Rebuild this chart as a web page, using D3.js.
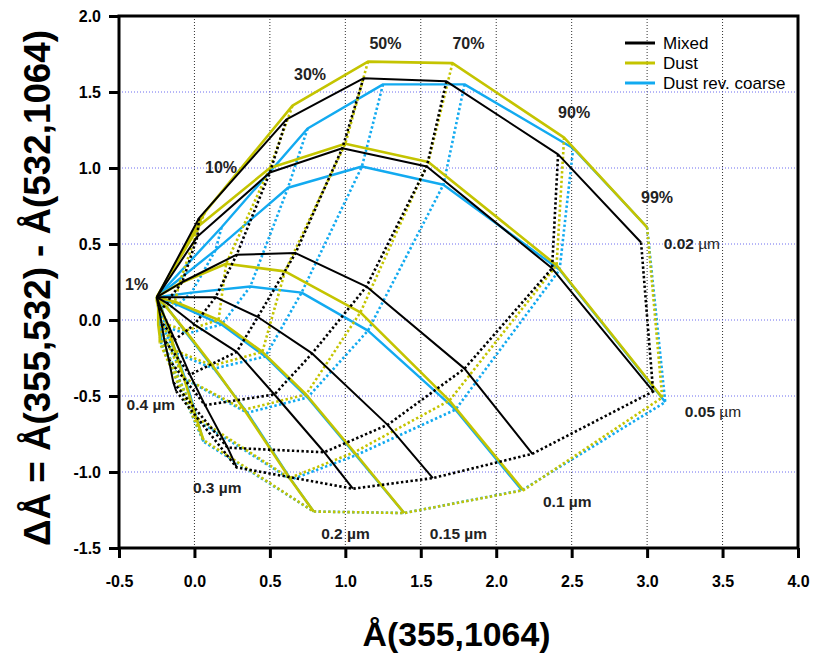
<!DOCTYPE html>
<html>
<head>
<meta charset="utf-8">
<script src="https://cdn.jsdelivr.net/npm/d3@7"></script>
<style>
  body { margin: 0; background: #fff; }
  svg { font-family: "Liberation Sans", Arial, sans-serif; }
</style>
</head>
<body>
<svg id="chart" width="814" height="658"></svg>
<script>
// fine-mode fractions (columns) and fine-mode radii (rows)
const fractions = ["1%", "10%", "30%", "50%", "70%", "90%", "99%"];
const radii = ["0.02", "0.05", "0.1", "0.15", "0.2", "0.3", "0.4"];

// Mixed
const mixedX = [
  [-0.25, 0.03, 0.61, 1.12, 1.67, 2.41, 2.96],
  [-0.25, 0.02, 0.50, 0.98, 1.54, 2.37, 3.04],
  [-0.25, -0.08, 0.28, 0.67, 1.14, 1.79, 2.24],
  [-0.25, -0.16, 0.14, 0.42, 0.78, 1.28, 1.58],
  [-0.25, -0.18, 0.00, 0.28, 0.53, 0.86, 1.05],
  [-0.25, -0.22, -0.13, -0.03, 0.07, 0.22, 0.28],
  [-0.25, -0.24, -0.22, -0.20, -0.17, -0.14, -0.12]
];
const mixedY = [
  [0.15, 0.67, 1.32, 1.59, 1.57, 1.09, 0.51],
  [0.15, 0.55, 0.97, 1.13, 1.01, 0.34, -0.47],
  [0.15, 0.25, 0.43, 0.44, 0.22, -0.32, -0.88],
  [0.15, 0.15, 0.15, 0.02, -0.22, -0.69, -1.04],
  [0.15, 0.11, -0.03, -0.21, -0.49, -0.87, -1.11],
  [0.15, 0.07, -0.13, -0.36, -0.56, -0.84, -0.97],
  [0.15, 0.10, -0.01, -0.13, -0.26, -0.41, -0.47]
];

// Dust
const dustX = [
  [-0.25, 0.07, 0.65, 1.15, 1.71, 2.45, 3.00],
  [-0.25, 0.03, 0.50, 1.00, 1.55, 2.40, 3.10],
  [-0.25, -0.10, 0.21, 0.60, 1.10, 1.69, 2.18],
  [-0.25, -0.13, 0.16, 0.45, 0.74, 1.06, 1.39],
  [-0.25, -0.19, -0.06, 0.12, 0.33, 0.63, 0.79],
  [-0.25, -0.23, -0.18, -0.13, -0.07, 0.01, 0.06],
  [-0.25, -0.25, -0.24, -0.24, -0.24, -0.23, -0.23]
];
const dustY = [
  [0.15, 0.71, 1.41, 1.70, 1.69, 1.20, 0.61],
  [0.15, 0.62, 1.00, 1.16, 1.04, 0.36, -0.51],
  [0.15, 0.24, 0.37, 0.32, 0.05, -0.53, -1.12],
  [0.15, 0.12, 0.00, -0.21, -0.49, -0.87, -1.27],
  [0.15, 0.09, -0.07, -0.30, -0.59, -1.04, -1.26],
  [0.15, 0.10, -0.03, -0.20, -0.38, -0.64, -0.79],
  [0.15, 0.13, 0.08, 0.03, -0.03, -0.11, -0.15]
];

// Dust rev. coarse
const revX = [
  [-0.25, 0.18, 0.75, 1.25, 1.79, 2.51, 3.00],
  [-0.25, 0.14, 0.62, 1.11, 1.65, 2.42, 3.12],
  [-0.25, -0.02, 0.37, 0.71, 1.15, 1.73, 2.17],
  [-0.25, -0.11, 0.18, 0.47, 0.75, 1.07, 1.39],
  [-0.25, -0.18, -0.05, 0.13, 0.35, 0.64, 0.79],
  [-0.25, -0.22, -0.18, -0.12, -0.06, 0.02, 0.06],
  [-0.25, -0.24, -0.24, -0.24, -0.23, -0.22, -0.22]
];
const revY = [
  [0.15, 0.61, 1.26, 1.55, 1.55, 1.13, 0.61],
  [0.15, 0.46, 0.87, 1.01, 0.89, 0.33, -0.54],
  [0.15, 0.18, 0.22, 0.18, -0.07, -0.59, -1.12],
  [0.15, 0.10, -0.03, -0.24, -0.51, -0.89, -1.27],
  [0.15, 0.08, -0.09, -0.32, -0.61, -1.05, -1.26],
  [0.15, 0.09, -0.05, -0.22, -0.39, -0.66, -0.80],
  [0.15, 0.12, 0.07, 0.01, -0.05, -0.12, -0.16]
];

const seriesNames = ["Mixed", "Dust", "Dust rev. coarse"];
const seriesColors = ["#000000", "#c4c400", "#12aaf0"];

// text labels, placed in data units
const fractionLabels = [
  ["1%", -0.46, 0.20], ["10%", 0.07, 0.97], ["30%", 0.66, 1.58], ["50%", 1.16, 1.78],
  ["70%", 1.71, 1.78], ["90%", 2.41, 1.33], ["99%", 2.96, 0.77]
];
const radiusLabels = [
  ["0.02", 3.11, 0.47, false], ["0.05", 3.25, -0.64, false], ["0.1", 2.31, -1.23, true],
  ["0.15", 1.56, -1.44, true], ["0.2", 0.84, -1.44, true], ["0.3", -0.01, -1.14, true],
  ["0.4", -0.45, -0.59, true]
];

const series = [
  { name: seriesNames[0], color: seriesColors[0], xs: mixedX, ys: mixedY, w: 2 },
  { name: seriesNames[1], color: seriesColors[1], xs: dustX, ys: dustY, w: 2.6 },
  { name: seriesNames[2], color: seriesColors[2], xs: revX, ys: revY, w: 2.4 }
];

const width = 814, height = 658;
const margin = { top: 16, right: 16, bottom: 110, left: 119 };

const svg = d3.select("#chart");

const x = d3.scaleLinear().domain([-0.5, 4]).range([margin.left, width - margin.right]);
const y = d3.scaleLinear().domain([-1.5, 2]).range([height - margin.bottom, margin.top]);

// grid
const grid = svg.append("g");
grid.selectAll(".vgrid")
  .data(x.ticks(10).filter((d) => d > -0.5 && d < 4))
  .enter().append("line")
  .attr("x1", (d) => x(d)).attr("x2", (d) => x(d))
  .attr("y1", y(2)).attr("y2", y(-1.5))
  .attr("stroke", "#333").attr("stroke-width", 1).attr("stroke-dasharray", "1,2");
grid.selectAll(".hgrid")
  .data(y.ticks(7).filter((d) => d > -1.5 && d < 2))
  .enter().append("line")
  .attr("x1", x(-0.5)).attr("x2", x(4))
  .attr("y1", (d) => y(d)).attr("y2", (d) => y(d))
  .attr("stroke", "#6c6cf0").attr("stroke-width", 1).attr("stroke-dasharray", "1,2");

const line = d3.line().x((d) => x(d[0])).y((d) => y(d[1]));

const plot = svg.append("g");
series.slice().reverse().forEach((s) => {
  const g = plot.append("g");
  // constant fraction: dotted, across radii
  for (let f = 1; f < fractions.length; f++) {
    const pts = radii.map((r, i) => [s.xs[i][f], s.ys[i][f]]);
    g.append("path")
      .attr("d", line(pts))
      .attr("fill", "none")
      .attr("stroke", s.color)
      .attr("stroke-width", 2.6)
      .attr("stroke-dasharray", "2.4,2.4");
  }
  // constant radius: solid, across fractions
  radii.forEach((r, i) => {
    const pts = fractions.map((f, j) => [s.xs[i][j], s.ys[i][j]]);
    g.append("path")
      .attr("d", line(pts))
      .attr("fill", "none")
      .attr("stroke", s.color)
      .attr("stroke-width", s.w)
      .attr("stroke-linejoin", "round");
  });
});

// axes
const xAxis = svg.append("g")
  .attr("transform", `translate(0,${y(-1.5)})`)
  .call(d3.axisBottom(x).ticks(10).tickSize(10).tickPadding(18).tickFormat((d) => d.toFixed(1)));
const yAxis = svg.append("g")
  .attr("transform", `translate(${x(-0.5)},0)`)
  .call(d3.axisLeft(y).ticks(7).tickSize(10).tickPadding(8).tickFormat((d) => d.toFixed(1)));

[xAxis, yAxis].forEach((a) => {
  a.select(".domain").remove();
  a.selectAll(".tick line").attr("stroke", "#000").attr("stroke-width", 3);
  a.selectAll(".tick text")
    .attr("fill", "#000")
    .attr("font-size", 16)
    .attr("font-weight", "bold");
});

// frame
svg.append("rect")
  .attr("x", x(-0.5)).attr("y", y(2))
  .attr("width", x(4) - x(-0.5)).attr("height", y(-1.5) - y(2))
  .attr("fill", "none").attr("stroke", "#000").attr("stroke-width", 3);

// annotations
svg.append("g").selectAll("text")
  .data(fractionLabels)
  .enter().append("text")
  .attr("x", (d) => x(d[1])).attr("y", (d) => y(d[2]))
  .attr("font-size", 16).attr("font-weight", "bold")
  .attr("fill", "#222")
  .text((d) => d[0]);

const rl = svg.append("g").selectAll("text")
  .data(radiusLabels)
  .enter().append("text")
  .attr("x", (d) => x(d[1])).attr("y", (d) => y(d[2]))
  .attr("font-size", 15.5).attr("fill", "#222");
rl.append("tspan").attr("font-weight", "bold").text((d) => d[0] + " ");
rl.append("tspan").attr("font-weight", (d) => (d[3] ? "bold" : "normal")).text("µm");

// legend
const legend = svg.append("g").attr("transform", "translate(625,43)");
series.forEach((s, i) => {
  legend.append("line")
    .attr("x1", 0).attr("x2", 30)
    .attr("y1", i * 20).attr("y2", i * 20)
    .attr("stroke", s.color).attr("stroke-width", 3);
  legend.append("text")
    .attr("x", 38).attr("y", i * 20).attr("dy", "0.35em")
    .attr("font-size", 17).attr("fill", "#000")
    .text(s.name);
});

// axis titles
svg.append("text")
  .attr("x", (x(-0.5) + x(4)) / 2 - 2).attr("y", 646)
  .attr("text-anchor", "middle")
  .attr("font-size", 34).attr("font-weight", "bold")
  .attr("textLength", 188).attr("lengthAdjust", "spacingAndGlyphs")
  .text("Å(355,1064)");

svg.append("text")
  .attr("transform", `translate(50,${(y(2) + y(-1.5)) / 2 + 6}) rotate(-90)`)
  .attr("text-anchor", "middle")
  .attr("font-size", 36).attr("font-weight", "bold")
  .attr("textLength", 516).attr("lengthAdjust", "spacingAndGlyphs")
  .text("ΔÅ = Å(355,532) - Å(532,1064)");
</script>
</body>
</html>
